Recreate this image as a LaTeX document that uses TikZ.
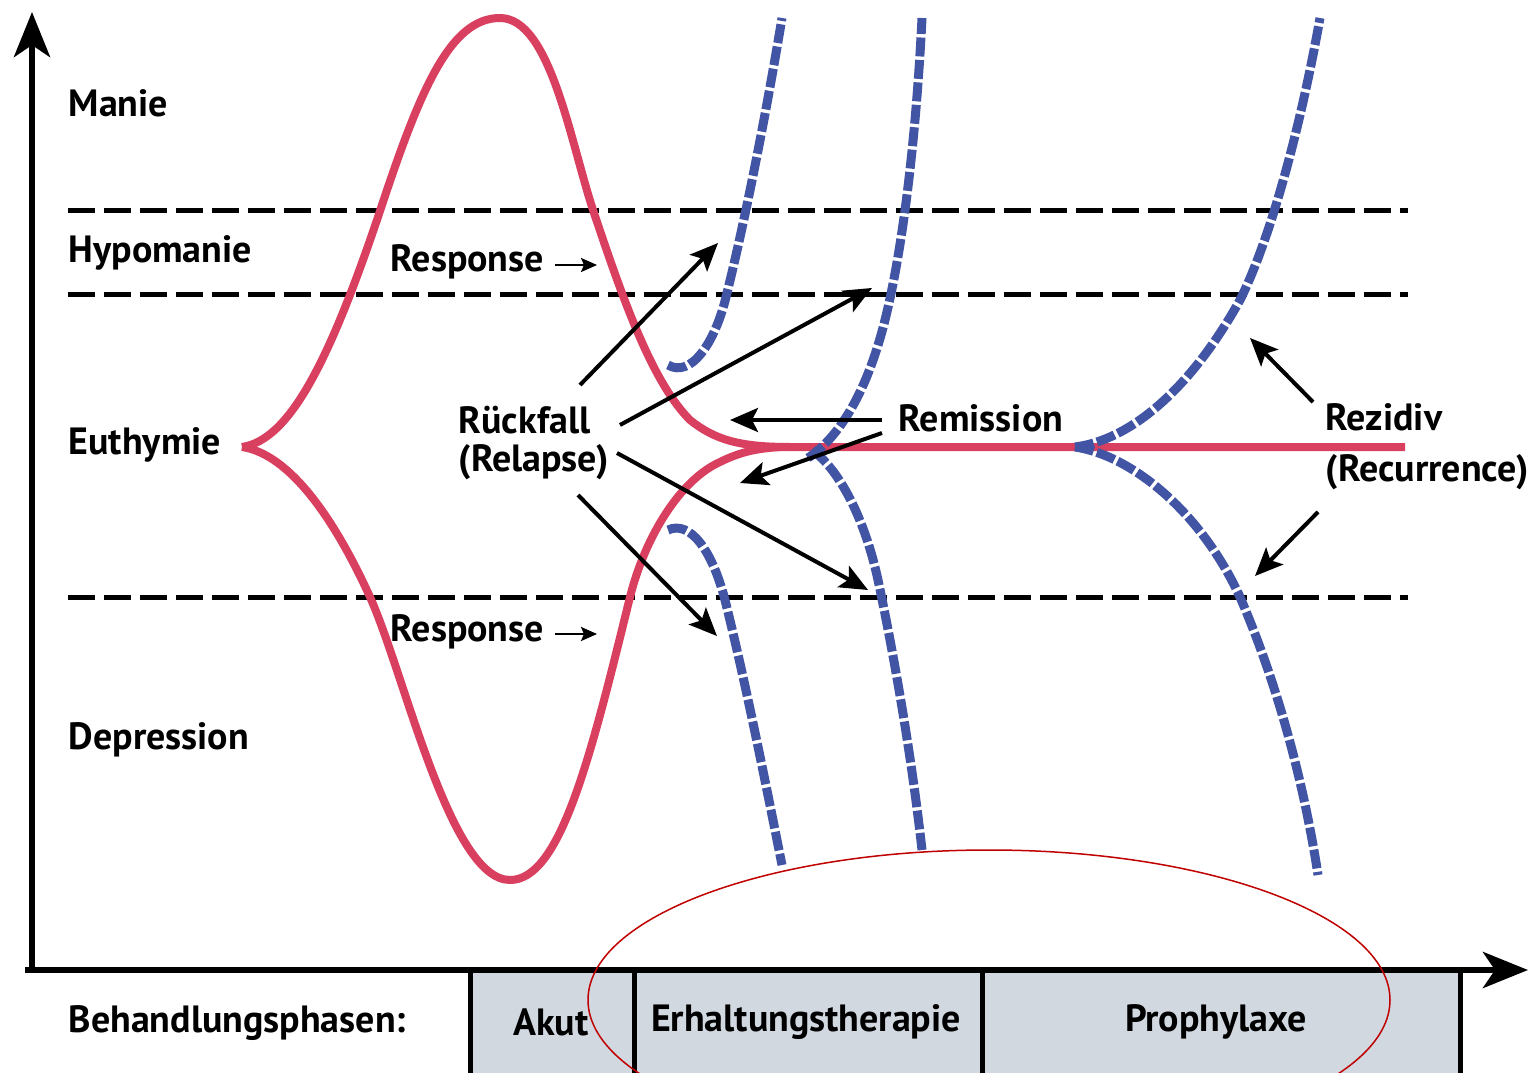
\documentclass[tikz,border=0pt]{standalone}
\usepackage{fontspec}
\setmainfont{PT Sans}
\usetikzlibrary{arrows.meta}
\definecolor{redc}{HTML}{D9405F}
\definecolor{bluec}{HTML}{4255A5}
\definecolor{boxc}{HTML}{D1D8E0}
\definecolor{ellc}{HTML}{C00000}
\begin{document}
\begin{tikzpicture}[x=0.1mm,y=-0.1mm,
  font=\fontsize{10.8}{13}\selectfont\bfseries,
  lbl/.style={inner sep=0pt, anchor=west},
  ctr/.style={inner sep=0pt},
  level/.style={black, line width=0.5mm, dash pattern=on 2.7mm off 0.9mm},
  redline/.style={redc, line width=0.8mm},
  blueline/.style={bluec, line width=0.9mm, dash pattern=on 1.9mm off 0.35mm},
  arr/.style={black, line width=0.4mm, -{Stealth[length=2.8mm,width=2.4mm,inset=0.6mm]}},
  smallarr/.style={black, line width=0.25mm, -{Stealth[length=1.6mm,width=1.4mm,inset=0.3mm]}},
  axis/.style={black, line width=0.65mm, -{Stealth[length=4.5mm,width=3.6mm,inset=1.2mm]}},
  sep/.style={black, line width=0.5mm},
]
\useasboundingbox (0,0) rectangle (1534,1073);
% bottom phase band
\fill[boxc] (470,970) rectangle (1460,1073);
\draw[sep] (470,970) -- (470,1073);
\draw[sep] (634,970) -- (634,1073);
\draw[sep] (982,970) -- (982,1073);
\draw[sep] (1460,970) -- (1460,1073);
% axes
\coordinate (origin) at (32,970);
\coordinate (ytip) at (32,12);
\coordinate (xstart) at (25,970);
\coordinate (xtip) at (1528,970);
\draw[axis] (origin) -- (ytip);
\draw[axis] (xstart) -- (xtip);
% level lines
\foreach \yy in {211,295,597}{
  \draw[level] (68,\yy) -- (1408,\yy);
}
% red course
\draw[redline, line join=round] (242,447)
  .. controls (290,440) and (330,360) .. (380,211)
  .. controls (420,90) and (450,18) .. (500,18)
  .. controls (550,18) and (570,140) .. (593,210)
  .. controls (620,290) and (650,380) .. (690,420)
  .. controls (715,440) and (740,447) .. (790,447)
  -- (1405,447);
\draw[redline, line join=round] (242,447)
  .. controls (290,454) and (335,520) .. (370,597)
  .. controls (405,675) and (450,880) .. (510,880)
  .. controls (560,880) and (590,760) .. (630,597)
  .. controls (645,537) and (680,480) .. (720,462)
  .. controls (740,452) and (760,447) .. (790,447);
% blue courses
\draw[blueline] (668,365) .. controls (690,378) and (715,345) .. (727,293)
  .. controls (745,220) and (765,120) .. (782,18);
\draw[blueline] (668,530) .. controls (690,520) and (712,550) .. (725,600)
  .. controls (745,680) and (765,780) .. (782,865);
\draw[blueline] (808,458) .. controls (835,440) and (865,400) .. (885,320)
  .. controls (905,240) and (917,120) .. (922,18);
\draw[blueline] (812,450) .. controls (840,470) and (865,520) .. (878,580)
  .. controls (895,660) and (912,760) .. (922,850);
\draw[blueline] (1075,447) .. controls (1130,440) and (1190,390) .. (1240,300)
  .. controls (1270,240) and (1300,130) .. (1320,18);
\draw[blueline] (1075,447) .. controls (1130,455) and (1200,510) .. (1240,597)
  .. controls (1280,690) and (1305,790) .. (1318,875);
% state labels
\node[lbl] (manie) at (68,103) {Manie};
\node[lbl] (hypo) at (68,253) {Hypomanie};
\node[lbl] (euth) at (68,445) {Euthymie};
\node[lbl] (depr) at (68,740) {Depression};
\node[lbl] (behand) at (68,1023) {Behandlungsphasen:};
% phases
\node[ctr] (akut) at (551,1022) {Akut};
\node[ctr] (erh) at (806,1022) {Erhaltungstherapie};
\node[ctr] (proph) at (1216,1022) {Prophylaxe};
% response
\node[lbl] (resp1) at (390,262) {Response};
\node[lbl] (resp2) at (390,632) {Response};
\coordinate (r1a) at (555,265); \coordinate (r1b) at (597,265);
\coordinate (r2a) at (555,634); \coordinate (r2b) at (597,634);
\draw[smallarr] (r1a) -- (r1b);
\draw[smallarr] (r2a) -- (r2b);
% relapse
\node[lbl] (rueck) at (458,420) {Rückfall};
\node[lbl] (relapse) at (458,462) {(Relapse)};
\coordinate (ka) at (580,385); \coordinate (kae) at (718,243);
\coordinate (kb) at (620,425); \coordinate (kbe) at (872,288);
\coordinate (kc) at (617,453); \coordinate (kce) at (868,590);
\coordinate (kd) at (578,495); \coordinate (kde) at (717,636);
\draw[arr] (ka) -- (kae);
\draw[arr] (kb) -- (kbe);
\draw[arr] (kc) -- (kce);
\draw[arr] (kd) -- (kde);
% remission
\node[lbl] (remi) at (898,418) {Remission};
\coordinate (ma) at (882,420); \coordinate (mae) at (730,420);
\coordinate (mb) at (882,433); \coordinate (mbe) at (740,483);
\draw[arr] (ma) -- (mae);
\draw[arr] (mb) -- (mbe);
% recurrence
\node[lbl] (rez) at (1325,417) {Rezidiv};
\node[lbl] (recur) at (1325,472) {(Recurrence)};
\coordinate (za) at (1313,402); \coordinate (zae) at (1250,338);
\coordinate (zb) at (1318,512); \coordinate (zbe) at (1255,576);
\draw[arr] (za) -- (zae);
\draw[arr] (zb) -- (zbe);
% annotation ellipse
\draw[ellc, line width=0.15mm] (989,1000) ellipse [x radius=401, y radius=150];
\end{tikzpicture}
\end{document}
